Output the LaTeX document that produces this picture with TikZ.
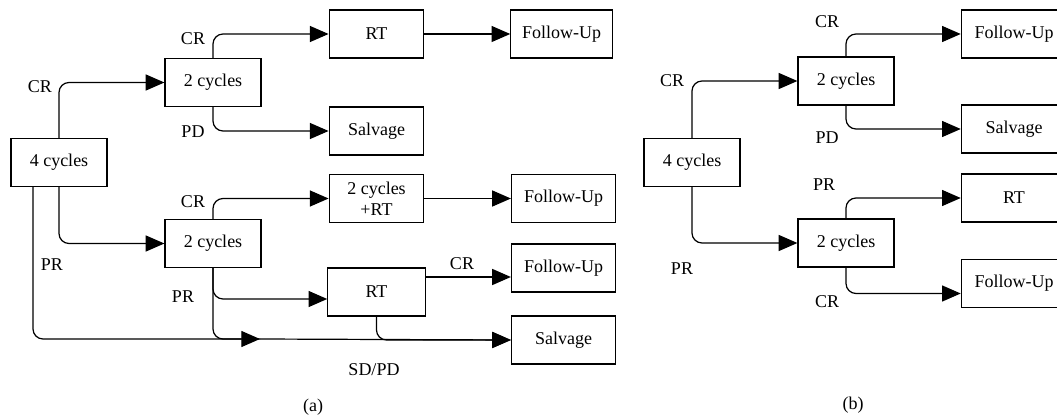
\documentclass[tikz,border=0pt]{standalone}
\usepackage{fontspec}
\setmainfont{Liberation Serif}
\usetikzlibrary{arrows.meta}

\begin{document}
\begin{tikzpicture}[x=0.75pt,y=0.75pt,yscale=-1,
  font=\fontsize{13.5}{15.5}\selectfont,
  box/.style={draw, line width=0.9pt, inner sep=0pt, minimum height=36pt, align=center},
  flow/.style={line width=0.9pt, rounded corners=7.5pt, -{Triangle[length=14pt,width=12pt]}},
  link/.style={line width=0.9pt, rounded corners=7.5pt}]
\useasboundingbox (0,0) rectangle (1057,417);
\clip (0,0) rectangle (1057,417);

%%%%% panel (a)
%Shape: Rectangle
\node [box, minimum width=72pt] (c4a) at (59,162.5) {4 cycles};
\node [box, minimum width=72pt] (m1a) at (213,82.5) {2 cycles};
\node [box, minimum width=72pt] (m2a) at (213,243.5) {2 cycles};
\node [box, minimum width=71pt] (rt1a) at (376.5,34) {RT};
\node [box, minimum width=71pt] (sv1a) at (376.5,131) {Salvage};
\node [box, minimum width=71pt] (c2rta) at (376.5,198.5) {2 cycles\\+RT};
\node [box, minimum width=73pt] (rt2a) at (376.5,292) {RT};
\node [box, minimum width=76pt] (fu1a) at (561.5,34) {Follow-Up};
\node [box, minimum width=78pt] (fu2a) at (563.5,198.5) {Follow-Up};
\node [box, minimum width=78pt] (fu3a) at (563.5,268) {Follow-Up};
\node [box, minimum width=78pt] (sv2a) at (563.5,340) {Salvage};
\coordinate (pra) at ([xshift=-19.5pt]c4a.south);
\coordinate (mida) at (260,339);

%Connectors
\draw [flow] (c4a.north) |- (m1a.west);
\draw [flow] (c4a.south) |- (m2a.west);
\draw [flow] (pra) |- (mida);
\draw [link] (m2a.south) |- (mida);
\draw [flow] (mida) -- (sv2a.west);
\draw [flow] (m1a.north) |- (rt1a.west);
\draw [flow] (m1a.south) |- (sv1a.west);
\draw [flow] (m2a.north) |- (c2rta.west);
\draw [flow] (m2a.south) |- ([yshift=5.25pt]rt2a.west);
\draw [flow] (rt1a.east) -- (fu1a.west);
\draw [flow] (c2rta.east) -- (fu2a.west);
\draw [flow] ([yshift=-11.25pt]rt2a.east) -- ([yshift=-11.25pt]rt2a.east -| fu3a.west);
\draw [flow] (rt2a.south) |- (sv2a.west);

% Text Node
\node (la1) at (40,87) {CR};
\node (la2) at (193,39) {CR};
\node (la3) at (193,132) {PD};
\node (la4) at (193,202) {CR};
\node (la5) at (52,265) {PR};
\node (la6) at (183,297) {PR};
\node (la7) at (462,264) {CR};
\node (la8) at (374,370) {SD/PD};
\node (capa) at (313,407) {(a)};

%%%%% panel (b)
%Shape: Rectangle
\node [box, minimum width=72pt] (c4b) at (692,162.5) {4 cycles};
\node [box, minimum width=72pt] (m1b) at (846,81) {2 cycles};
\node [box, minimum width=72pt] (m2b) at (846,243) {2 cycles};
\node [box, minimum width=79pt] (fu1b) at (1014,34) {Follow-Up};
\node [box, minimum width=79pt] (sv1b) at (1014,129) {Salvage};
\node [box, minimum width=79pt] (rtb) at (1014,198) {RT};
\node [box, minimum width=79pt] (fu2b) at (1014,283.5) {Follow-Up};

%Connectors
\draw [flow] (c4b.north) |- (m1b.west);
\draw [flow] (c4b.south) |- (m2b.west);
\draw [flow] (m1b.north) |- (fu1b.west);
\draw [flow] (m1b.south) |- (sv1b.west);
\draw [flow] (m2b.north) |- (rtb.west);
\draw [flow] (m2b.south) |- ([yshift=7.5pt]fu2b.west);

% Text Node
\node (lb1) at (827,22) {CR};
\node (lb2) at (672,81) {CR};
\node (lb3) at (827,138) {PD};
\node (lb4) at (824,185) {PR};
\node (lb5) at (682,269) {PR};
\node (lb6) at (827,302) {CR};
\node (capb) at (853,405) {(b)};

\end{tikzpicture}
\end{document}
